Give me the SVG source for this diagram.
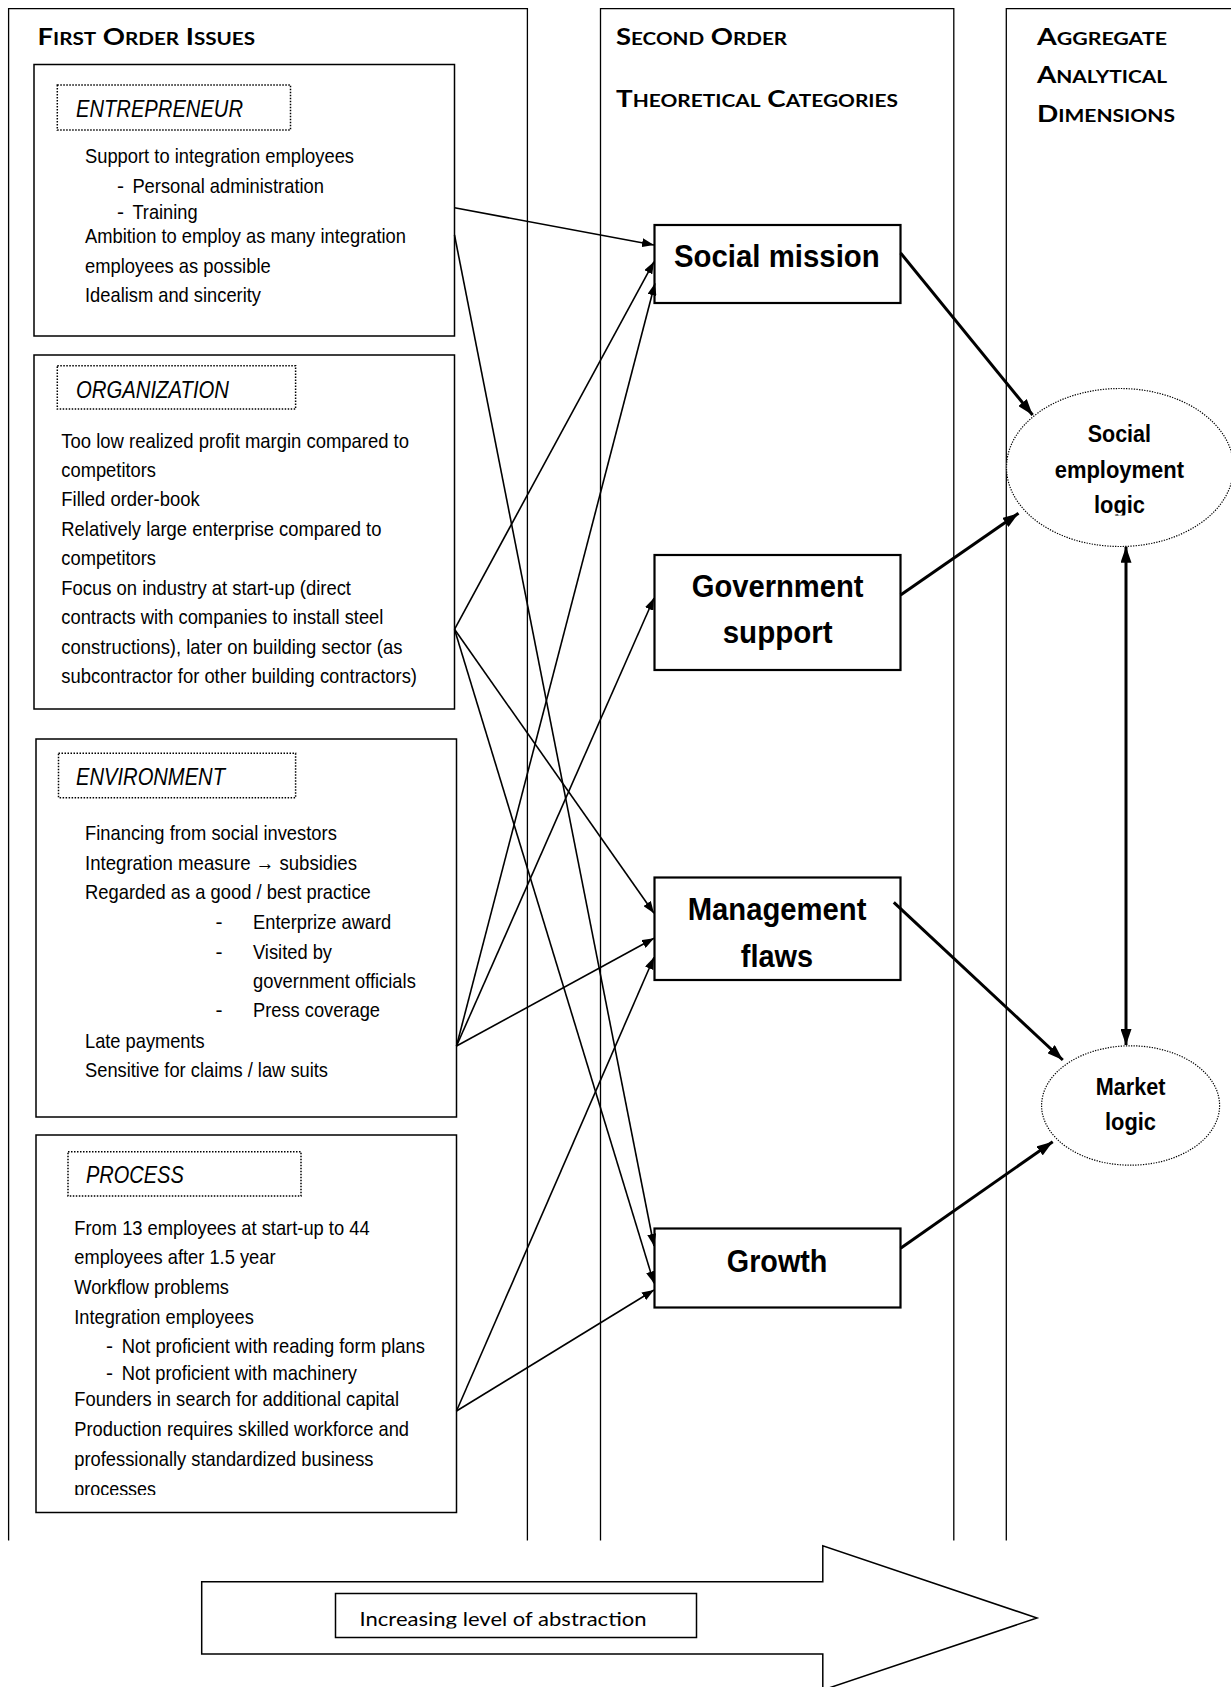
<svg xmlns="http://www.w3.org/2000/svg" width="1231" height="1687" viewBox="0 0 1231 1687">
<style>
.col{fill:none;stroke:#000;stroke-width:1.3}
.box{fill:#fff;stroke:#000;stroke-width:1.5}
.dot{fill:none;stroke:#000;stroke-width:1.5;stroke-dasharray:1.5 1.5}
.cbox{fill:#fff;stroke:#000;stroke-width:2.2}
.ell{fill:#fff;stroke:#000;stroke-width:1.2;stroke-dasharray:1.3 1.3}
.b{font-family:"Liberation Sans Narrow","Arial Narrow","Liberation Sans",Arial,sans-serif;font-size:21px;fill:#000}
.lb{font-family:"Liberation Sans Narrow","Arial Narrow","Liberation Sans",Arial,sans-serif;font-size:23px;font-style:italic;fill:#000}
.cat{font-family:"Liberation Sans Narrow","Arial Narrow","Liberation Sans",Arial,sans-serif;font-size:31px;font-weight:700;fill:#000}
.agg{font-family:"Liberation Sans Narrow","Arial Narrow","Liberation Sans",Arial,sans-serif;font-size:23px;font-weight:700;fill:#000}
.h{font-family:Lato,"Open Sans","Liberation Sans",sans-serif;font-size:22px;font-weight:700;fill:#000}
.sc{font-size:16.5px}
.ab{font-family:Lato,"Open Sans","Liberation Sans",sans-serif;font-size:20px;fill:#000}
.thin{fill:none;stroke:#000;stroke-width:1.6;marker-end:url(#ah)}
.thick{fill:none;stroke:#000;stroke-width:3;marker-end:url(#ahb)}
</style>
<defs>
<marker id="ah" viewBox="0 0 12 9" refX="12" refY="4.5" markerWidth="12" markerHeight="9" orient="auto" markerUnits="userSpaceOnUse"><path d="M0,0L12,4.5L0,9z" fill="#000"/></marker>
<marker id="ahb" viewBox="0 0 16 11" refX="16" refY="5.5" markerWidth="16" markerHeight="11" orient="auto-start-reverse" markerUnits="userSpaceOnUse"><path d="M0,0L16,5.5L0,11z" fill="#000"/></marker>
<clipPath id="cpProc"><rect x="36" y="1135" width="421" height="360"/></clipPath>
<clipPath id="cpSel"><rect x="1000" y="380" width="240" height="135.5"/></clipPath>
<clipPath id="cpAbs"><rect x="336" y="1594" width="360" height="34.5"/></clipPath>
</defs>
<rect width="1231" height="1687" fill="#fff"/>

<g id="columns">
<path class="col" d="M8.6,1540.6V8.6H527.4V1540.6"/>
<path class="col" d="M600.5,1540.6V8.6H953.8V1540.6"/>
<path class="col" d="M1006.3,1540.6V8.6H1235"/>
</g>

<g id="headers">
<text class="h" x="37.5" y="45" textLength="217.5" lengthAdjust="spacingAndGlyphs">F<tspan class="sc">IRST</tspan> O<tspan class="sc">RDER</tspan> I<tspan class="sc">SSUES</tspan></text>
<text class="h" x="616" y="45" textLength="171" lengthAdjust="spacingAndGlyphs">S<tspan class="sc">ECOND</tspan> O<tspan class="sc">RDER</tspan></text>
<text class="h" x="616" y="106.7" textLength="282" lengthAdjust="spacingAndGlyphs">T<tspan class="sc">HEORETICAL</tspan> C<tspan class="sc">ATEGORIES</tspan></text>
<text class="h" x="1037" y="45" textLength="130" lengthAdjust="spacingAndGlyphs">A<tspan class="sc">GGREGATE</tspan></text>
<text class="h" x="1037" y="83.3" textLength="130" lengthAdjust="spacingAndGlyphs">A<tspan class="sc">NALYTICAL</tspan></text>
<text class="h" x="1037" y="122" textLength="138" lengthAdjust="spacingAndGlyphs">D<tspan class="sc">IMENSIONS</tspan></text>
</g>

<g id="entrepreneur">
<rect class="box" x="34" y="64.5" width="420.5" height="271.5"/>
<rect class="dot" x="57.3" y="85" width="233.2" height="45"/>
<text class="lb" x="76" y="116.7" textLength="167" lengthAdjust="spacingAndGlyphs">ENTREPRENEUR</text>
<text class="b" x="85" y="163" textLength="269" lengthAdjust="spacingAndGlyphs">Support to integration employees</text>
<text class="b" x="117" y="192.5">-</text>
<text class="b" x="132.4" y="192.5" textLength="191.6" lengthAdjust="spacingAndGlyphs">Personal administration</text>
<text class="b" x="117" y="218.5">-</text>
<text class="b" x="132.4" y="218.5" textLength="65.2" lengthAdjust="spacingAndGlyphs">Training</text>
<text class="b" x="85" y="243.3" textLength="321" lengthAdjust="spacingAndGlyphs">Ambition to employ as many integration</text>
<text class="b" x="85" y="272.5" textLength="185.7" lengthAdjust="spacingAndGlyphs">employees as possible</text>
<text class="b" x="85" y="301.7" textLength="176" lengthAdjust="spacingAndGlyphs">Idealism and sincerity</text>
</g>

<g id="organization">
<rect class="box" x="34" y="355" width="420.5" height="354"/>
<rect class="dot" x="57.3" y="365.7" width="238.3" height="43.3"/>
<text class="lb" x="76" y="397.7" textLength="153" lengthAdjust="spacingAndGlyphs">ORGANIZATION</text>
<text class="b" x="61.3" y="447.7" textLength="347.7" lengthAdjust="spacingAndGlyphs">Too low realized profit margin compared to</text>
<text class="b" x="61.3" y="476.7" textLength="94.7" lengthAdjust="spacingAndGlyphs">competitors</text>
<text class="b" x="61.3" y="506.3" textLength="138.3" lengthAdjust="spacingAndGlyphs">Filled order-book</text>
<text class="b" x="61.3" y="535.7" textLength="320.1" lengthAdjust="spacingAndGlyphs">Relatively large enterprise compared to</text>
<text class="b" x="61.3" y="565" textLength="94.7" lengthAdjust="spacingAndGlyphs">competitors</text>
<text class="b" x="61.3" y="595" textLength="289.7" lengthAdjust="spacingAndGlyphs">Focus on industry at start-up (direct</text>
<text class="b" x="61.3" y="624" textLength="322.1" lengthAdjust="spacingAndGlyphs">contracts with companies to install steel</text>
<text class="b" x="61.3" y="653.5" textLength="341.1" lengthAdjust="spacingAndGlyphs">constructions), later on building sector (as</text>
<text class="b" x="61.3" y="682.5" textLength="355.7" lengthAdjust="spacingAndGlyphs">subcontractor for other building contractors)</text>
</g>

<g id="environment">
<rect class="box" x="36" y="739" width="420.5" height="378"/>
<rect class="dot" x="58.5" y="753.3" width="237.1" height="44.4"/>
<text class="lb" x="76" y="785" textLength="149" lengthAdjust="spacingAndGlyphs">ENVIRONMENT</text>
<text class="b" x="85" y="840" textLength="251.8" lengthAdjust="spacingAndGlyphs">Financing from social investors</text>
<text class="b" x="85" y="870" textLength="272" lengthAdjust="spacingAndGlyphs">Integration measure → subsidies</text>
<text class="b" x="85" y="899.3" textLength="285.8" lengthAdjust="spacingAndGlyphs">Regarded as a good / best practice</text>
<text class="b" x="215.4" y="929">-</text>
<text class="b" x="253" y="929" textLength="138.3" lengthAdjust="spacingAndGlyphs">Enterprize award</text>
<text class="b" x="215.4" y="959.3">-</text>
<text class="b" x="253" y="959.3" textLength="79" lengthAdjust="spacingAndGlyphs">Visited by</text>
<text class="b" x="253" y="988.3" textLength="162.8" lengthAdjust="spacingAndGlyphs">government officials</text>
<text class="b" x="215.4" y="1017.3">-</text>
<text class="b" x="253" y="1017.3" textLength="127" lengthAdjust="spacingAndGlyphs">Press coverage</text>
<text class="b" x="85" y="1048.3" textLength="119.7" lengthAdjust="spacingAndGlyphs">Late payments</text>
<text class="b" x="85" y="1076.7" textLength="243" lengthAdjust="spacingAndGlyphs">Sensitive for claims / law suits</text>
</g>

<g id="process">
<rect class="box" x="36" y="1135" width="420.5" height="377.5"/>
<rect class="dot" x="68" y="1151.7" width="233" height="44.3"/>
<text class="lb" x="86" y="1183.3" textLength="97.8" lengthAdjust="spacingAndGlyphs">PROCESS</text>
<g clip-path="url(#cpProc)">
<text class="b" x="74.3" y="1235" textLength="295.3" lengthAdjust="spacingAndGlyphs">From 13 employees at start-up to 44</text>
<text class="b" x="74.3" y="1264.3" textLength="201.2" lengthAdjust="spacingAndGlyphs">employees after 1.5 year</text>
<text class="b" x="74.3" y="1294" textLength="154.7" lengthAdjust="spacingAndGlyphs">Workflow problems</text>
<text class="b" x="74.3" y="1324" textLength="179.5" lengthAdjust="spacingAndGlyphs">Integration employees</text>
<text class="b" x="106" y="1353">-</text>
<text class="b" x="121.7" y="1353" textLength="303.3" lengthAdjust="spacingAndGlyphs">Not proficient with reading form plans</text>
<text class="b" x="106" y="1380">-</text>
<text class="b" x="121.7" y="1380" textLength="235.3" lengthAdjust="spacingAndGlyphs">Not proficient with machinery</text>
<text class="b" x="74.3" y="1406" textLength="324.7" lengthAdjust="spacingAndGlyphs">Founders in search for additional capital</text>
<text class="b" x="74.3" y="1436" textLength="334.7" lengthAdjust="spacingAndGlyphs">Production requires skilled workforce and</text>
<text class="b" x="74.3" y="1466" textLength="299.2" lengthAdjust="spacingAndGlyphs">professionally standardized business</text>
<text class="b" x="74.3" y="1496" textLength="81.7" lengthAdjust="spacingAndGlyphs">processes</text>
</g>
</g>

<g id="social-mission">
<rect class="cbox" x="654.5" y="225" width="246" height="78"/>
<text class="cat" x="674" y="266.7" textLength="205.7" lengthAdjust="spacingAndGlyphs">Social mission</text>
</g>
<g id="government-support">
<rect class="cbox" x="654.5" y="555" width="246" height="115"/>
<text class="cat" x="691.7" y="597" textLength="171.9" lengthAdjust="spacingAndGlyphs">Government</text>
<text class="cat" x="722.7" y="643" textLength="109.9" lengthAdjust="spacingAndGlyphs">support</text>
</g>
<g id="management-flaws">
<rect class="cbox" x="654.5" y="877.5" width="246" height="102.5"/>
<text class="cat" x="687.7" y="919.5" textLength="178.7" lengthAdjust="spacingAndGlyphs">Management</text>
<text class="cat" x="740.8" y="967" textLength="72.2" lengthAdjust="spacingAndGlyphs">flaws</text>
</g>
<g id="growth">
<rect class="cbox" x="654.5" y="1228.5" width="246" height="79"/>
<text class="cat" x="726.8" y="1271.7" textLength="100.6" lengthAdjust="spacingAndGlyphs">Growth</text>
</g>

<g id="social-employment-logic">
<ellipse class="ell" cx="1120" cy="467.5" rx="113.5" ry="79"/>
<text class="agg" x="1087.7" y="441.7" textLength="63.3" lengthAdjust="spacingAndGlyphs">Social</text>
<text class="agg" x="1054.7" y="478.3" textLength="129.3" lengthAdjust="spacingAndGlyphs">employment</text>
<text class="agg" x="1094" y="513.3" textLength="51" lengthAdjust="spacingAndGlyphs" clip-path="url(#cpSel)">logic</text>
</g>
<g id="market-logic">
<ellipse class="ell" cx="1130.6" cy="1105.5" rx="89" ry="59.7"/>
<text class="agg" x="1095.8" y="1095" textLength="69.6" lengthAdjust="spacingAndGlyphs">Market</text>
<text class="agg" x="1105" y="1130" textLength="51" lengthAdjust="spacingAndGlyphs">logic</text>
</g>

<g id="connectors">
<line class="thin" x1="454.5" y1="207.7" x2="654" y2="245"/>
<line class="thin" x1="454.5" y1="235" x2="654" y2="1246"/>
<line class="thin" x1="454.5" y1="629.3" x2="654" y2="261.7"/>
<line class="thin" x1="454.5" y1="629.3" x2="654" y2="913.3"/>
<line class="thin" x1="454.5" y1="629.3" x2="654" y2="1283.3"/>
<line class="thin" x1="456.5" y1="1046" x2="655" y2="283.3"/>
<line class="thin" x1="456.5" y1="1046" x2="654" y2="598"/>
<line class="thin" x1="456.5" y1="1046" x2="654" y2="938.3"/>
<line class="thin" x1="456.5" y1="1411" x2="654" y2="957.3"/>
<line class="thin" x1="456.5" y1="1411" x2="654" y2="1290"/>
<line class="thick" x1="900.6" y1="253" x2="1032.6" y2="415"/>
<line class="thick" x1="900.6" y1="595" x2="1018.5" y2="513.3"/>
<line class="thick" x1="893.8" y1="902.3" x2="1062.8" y2="1060"/>
<line class="thick" x1="900.6" y1="1248.3" x2="1052.7" y2="1141.7"/>
<line class="thick" x1="1126" y1="546.7" x2="1126" y2="1045" marker-start="url(#ahb)"/>
</g>

<g id="abstraction-arrow">
<polygon class="box" points="201.7,1581.7 822.8,1581.7 822.8,1545.7 1037,1618 822.8,1690 822.8,1654 201.7,1654"/>
<rect class="box" x="335.5" y="1593.5" width="361" height="44"/>
<text class="ab" x="359.5" y="1626" textLength="287" lengthAdjust="spacingAndGlyphs" clip-path="url(#cpAbs)">Increasing level of abstraction</text>
</g>
</svg>
